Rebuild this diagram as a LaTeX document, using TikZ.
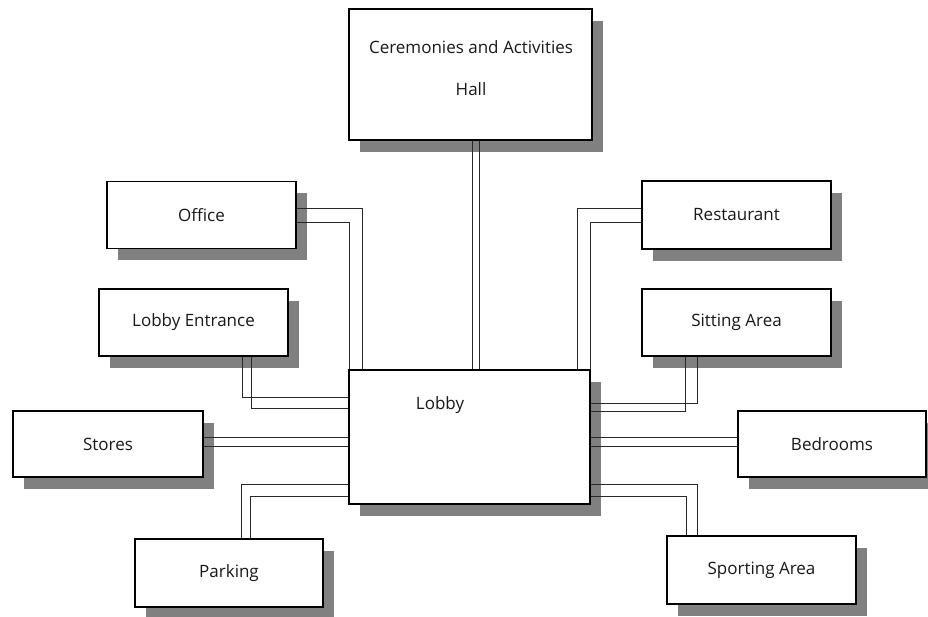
\documentclass[tikz,border=0pt]{standalone}
\usepackage{fontspec}
\setmainfont{Open Sans}
\usetikzlibrary{shadows}
\definecolor{shadowgrey}{RGB}{128,128,128}
\definecolor{linkgrey}{RGB}{40,40,40}
\definecolor{inkgrey}{RGB}{25,25,25}
\tikzset{
  room/.style={draw=black, line width=1.3pt, fill=white,
    minimum width=189pt, minimum height=67pt, inner sep=0pt,
    font=\fontsize{17}{20}\selectfont, text=inkgrey,
    drop shadow={shadow xshift=11pt, shadow yshift=-12pt, fill=shadowgrey, opacity=1}},
  roomtext/.style={font=\fontsize{17}{20}\selectfont, text=inkgrey, inner sep=0pt},
  link/.style={draw=linkgrey, line width=0.9pt}
}
\begin{document}
\begin{tikzpicture}[x=1pt, y=-1pt]
  \clip (0,0) rectangle (928,617);
  \fill[white] (0,0) rectangle (928,617);

  % rooms
  \node[room, minimum width=243pt, minimum height=131pt] (hall) at (470.5,74.5) {};
  \node[roomtext, align=center] (halltext) at (471,68.5)
    {Ceremonies and Activities\\[22pt]Hall};
  \node[room] (office) at (201.5,215) {Office};
  \node[room] (entrance) at (193.5,322.5) {Lobby Entrance};
  \node[room, minimum width=190pt, minimum height=66pt] (stores) at (108,444) {Stores};
  \node[room, minimum width=188pt, minimum height=68pt] (parking) at (229,573) {Parking};
  \node[room, minimum width=241pt, minimum height=134pt] (lobby) at (469.5,437) {};
  \node[roomtext] (lobbytext) at (440,405) {Lobby};
  \node[room, minimum height=68pt] (restaurant) at (736.5,215) {Restaurant};
  \node[room] (sitting) at (736.5,322.5) {Sitting Area};
  \node[room, minimum width=188pt, minimum height=66pt] (bedrooms) at (832,444) {Bedrooms};
  \node[room, minimum height=68pt] (sporting) at (761.5,570) {Sporting Area};

  % double corridors into the lobby
  \draw[link] ([xshift=1.5pt]hall.south) -- ([xshift=1.5pt]hall.south |- lobby.north);
  \draw[link] ([xshift=8.5pt]hall.south) -- ([xshift=8.5pt]hall.south |- lobby.north);

  \draw[link] ([yshift=7pt]office.east) -| ([xshift=14pt]lobby.north west);
  \draw[link] ([yshift=-7pt]office.east) -| ([xshift=1pt]lobby.north west);

  \draw[link] ([yshift=7pt]restaurant.west) -| ([xshift=-13pt]lobby.north east);
  \draw[link] ([yshift=-7pt]restaurant.west) -| ([xshift=-0.5pt]lobby.north east);

  \draw[link] ([xshift=48.5pt]entrance.south) |- ([yshift=40pt]lobby.west);
  \draw[link] ([xshift=57.5pt]entrance.south) |- ([yshift=29pt]lobby.west);

  \draw[link] ([yshift=7pt]stores.east) -- ([yshift=7pt]stores.east -| lobby.west);
  \draw[link] ([yshift=-2pt]stores.east) -- ([yshift=-2pt]stores.east -| lobby.west);

  \draw[link] ([yshift=-47pt]lobby.west) -| ([xshift=12pt]parking.north);
  \draw[link] ([yshift=-59pt]lobby.west) -| ([xshift=21pt]parking.north);

  \draw[link] ([xshift=-39.5pt]sitting.south) |- ([yshift=34pt]lobby.east);
  \draw[link] ([xshift=-51.5pt]sitting.south) |- ([yshift=26pt]lobby.east);

  \draw[link] ([yshift=7pt]bedrooms.west) -- ([yshift=7pt]bedrooms.west -| lobby.east);
  \draw[link] ([yshift=-2pt]bedrooms.west) -- ([yshift=-2pt]bedrooms.west -| lobby.east);

  \draw[link] ([yshift=-47pt]lobby.east) -| ([xshift=-64.5pt]sporting.north);
  \draw[link] ([yshift=-59pt]lobby.east) -| ([xshift=-75.5pt]sporting.north);
\end{tikzpicture}
\end{document}
